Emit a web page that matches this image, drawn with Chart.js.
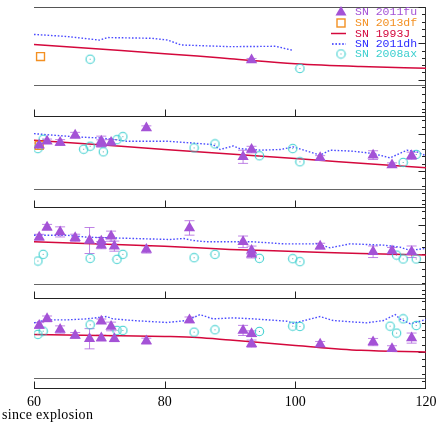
<!DOCTYPE html>
<html>
<head>
<meta charset="utf-8">
<script src="https://cdn.jsdelivr.net/npm/chart.js@4.4.1/dist/chart.umd.min.js"></script>
<style>
  html, body { margin: 0; padding: 0; background: #fff; }
  #wrap { width: 436px; height: 436px; position: relative; }
</style>
</head>
<body>
<div id="wrap"><canvas id="colorChart"></canvas></div>
<script>
// x = days since explosion, y = colour in each of the four stacked panels (no y labels in the figure)
const xTicks = [60, 80, 100, 120];

// SN 1993J template
const j93Days = [60, 70, 80, 85, 90, 100, 110, 120];
const j93P1 = [0.986, 0.922, 0.858, 0.825, 0.79, 0.72, 0.682, 0.659];
const j93P2 = [0.92, 0.857, 0.794, 0.762, 0.731, 0.669, 0.606, 0.543];
const j93P3 = [0.774, 0.743, 0.713, 0.69, 0.668, 0.64, 0.612, 0.59];
const j93P4 = [0.742, 0.728, 0.714, 0.70, 0.664, 0.59, 0.522, 0.499];

// SN 2011dh
const dhDays1 = [60, 65, 70, 71.3, 78, 80.5, 82.5, 90, 97, 99.5];
const dhP1 = [1.123, 1.095, 1.045, 1.08, 1.07, 1.045, 0.978, 0.955, 0.96, 0.906];
const dhDays2 = [60, 64, 66.6, 70.1, 72.1, 74.2, 80.4, 83.4, 87.4, 88.5, 90.5, 91.5, 94.6, 97.7, 99.7, 101.8, 103.8, 105.3, 108.8, 111.9, 114.5, 117.1, 118.6, 120];
const dhP2 = [1.01, 0.982, 0.965, 0.951, 0.933, 0.906, 0.906, 0.888, 0.86, 0.793, 0.842, 0.806, 0.784, 0.793, 0.829, 0.77, 0.716, 0.784, 0.77, 0.738, 0.679, 0.784, 0.761, 0.707];
const dhDays3 = [60, 65, 68.1, 75.2, 80.8, 82.9, 84.4, 86.4, 93.6, 98.2, 103.3, 105.3, 108.4, 113.5, 116, 117.6, 120];
const dhP3 = [0.865, 0.865, 0.838, 0.82, 0.806, 0.82, 0.792, 0.774, 0.774, 0.746, 0.746, 0.691, 0.746, 0.728, 0.70, 0.655, 0.683];
const dhDays4 = [60, 61.9, 65, 68.1, 71.1, 72.1, 75.2, 80.3, 83.4, 85.4, 87.4, 90.5, 93.6, 98.7, 99.7, 103.8, 105.8, 110.9, 113.5, 115.3, 116, 117.6, 120];
const dhP4 = [0.902, 0.943, 0.943, 0.957, 0.989, 0.957, 0.934, 0.907, 0.934, 1.016, 0.957, 0.971, 0.957, 0.925, 0.897, 0.989, 0.934, 0.902, 0.934, 1.016, 0.957, 0.888, 0.948];

// SN 2011fu (with errors)
const fuDays = [60.8, 62.0, 64.0, 66.3, 68.5, 70.3, 70.3, 71.8, 72.3, 77.2, 83.8, 92.0, 93.3, 93.3, 103.8, 111.9, 114.8, 117.8];
const fuP1 = [null, null, null, null, null, null, null, null, null, null, null, null, 0.773, null, null, null, null, null];
const fuE1 = [0, 0, 0, 0, 0, 0, 0, 0, 0, 0, 0, 0, 0.02, 0, 0, 0, 0, 0];
const fuP2 = [0.852, 0.906, 0.888, 0.988, null, 0.906, 0.875, 0.888, null, 1.087, null, 0.693, 0.792, null, 0.679, 0.716, 0.58, 0.707];
const fuE2 = [0.03, 0.03, 0.04, 0.04, 0, 0.07, 0.05, 0.04, 0, 0.03, 0, 0.09, 0.045, 0, 0.03, 0.06, 0.03, 0.05];
const fuP3 = [0.838, 0.975, 0.911, 0.829, 0.792, 0.783, 0.728, 0.852, 0.714, 0.668, 0.966, 0.774, 0.655, 0.60, 0.714, 0.636, 0.646, 0.636];
const fuE3 = [0.04, 0.04, 0.07, 0.05, 0.18, 0.05, 0.05, 0.07, 0.07, 0.05, 0.1, 0.08, 0.06, 0.05, 0.04, 0.08, 0.05, 0.08];
const fuP4 = [0.865, 0.957, 0.81, 0.728, 0.682, 0.925, 0.691, 0.852, 0.682, 0.65, 0.943, 0.797, 0.751, 0.614, 0.604, 0.636, 0.545, 0.691];
const fuE4 = [0.04, 0.04, 0.05, 0.04, 0.14, 0.03, 0.04, 0.06, 0.04, 0.04, 0.04, 0.07, 0.04, 0.05, 0.04, 0.05, 0.04, 0.07];

// SN 2013df
const dfDays = [61.0, 60.8];
const dfP1 = [0.819, null];
const dfP2 = [null, 0.85];

// SN 2008ax
const axDays = [60.6, 61.4, 67.6, 68.6, 70.6, 72.7, 73.6, 84.5, 87.7, 94.5, 99.6, 100.7, 114.5, 115.5, 116.5, 118.5];
const axP1 = [null, null, null, 0.782, null, null, null, null, null, null, null, 0.655, null, null, null, null];
const axP2 = [0.806, 0.933, 0.797, 0.838, 0.761, 0.928, 0.969, 0.815, 0.87, 0.707, 0.806, 0.625, null, null, 0.616, 0.725];
const axP3 = [0.508, 0.60, null, 0.545, null, 0.531, 0.60, 0.554, 0.60, 0.545, 0.54, 0.499, null, 0.59, 0.536, 0.536];
const axP4 = [0.742, 0.787, null, 0.875, null, 0.797, 0.797, 0.773, 0.806, 0.783, 0.856, 0.852, 0.856, 0.76, 0.957, 0.865];

const colFu = '#a452d6';
const colDf = '#f39022';
const colJ = '#d4083c';
const colDh = '#2b2bff';
const colAx = '#3ccfcf';

const panelIds = ['y1', 'y2', 'y3', 'y4'];
const panelMax = [1.5, 1.25, 1.25, 1.25];
const panelWeight = [110, 92, 91, 91];
const sepVals = [0.423, 0.258, 0.192, 0.137];

function pts(days, vals) {
  return days.map((d, i) => ({x: d, y: vals[i]})).filter(p => p.y !== null);
}

function ringDot(color) {
  const c = document.createElement('canvas');
  c.width = 11; c.height = 11;
  const g = c.getContext('2d');
  g.strokeStyle = color;
  g.lineWidth = 1.1;
  g.beginPath(); g.arc(5.5, 5.5, 4.2, 0, Math.PI * 2); g.stroke();
  g.fillStyle = '#5aa';
  g.fillRect(5, 5, 1, 1);
  return c;
}
const ring = ringDot(colAx);

const j93 = [j93P1, j93P2, j93P3, j93P4];
const dh = [[dhDays1, dhP1], [dhDays2, dhP2], [dhDays3, dhP3], [dhDays4, dhP4]];
const fu = [fuP1, fuP2, fuP3, fuP4];
const fuErr = [fuE1, fuE2, fuE3, fuE4];
const ax = [axP1, axP2, axP3, axP4];
const df = [dfP1, dfP2, null, null];

const datasets = [];
panelIds.forEach((id, i) => {
  datasets.push({
    label: 'SN 2011fu', yAxisID: id, data: pts(fuDays, fu[i]), order: 0,
    pointStyle: 'triangle', pointRadius: 6.5, backgroundColor: colFu, borderColor: colFu, borderWidth: 0, showLine: false
  });
  datasets.push({
    label: 'SN 2008ax', yAxisID: id, data: pts(axDays, ax[i]), order: 1,
    pointStyle: ring, pointRadius: 5, showLine: false
  });
  if (df[i]) {
    datasets.push({
      label: 'SN 2013df', yAxisID: id, data: pts(dfDays, df[i]), order: 2,
      pointStyle: 'rect', pointRadius: 5.6, backgroundColor: 'rgba(0,0,0,0)', borderColor: colDf, borderWidth: 1.4, showLine: false
    });
  }
  datasets.push({
    label: 'SN 2011dh', yAxisID: id, data: pts(dh[i][0], dh[i][1]), order: 3,
    showLine: true, pointRadius: 0, borderColor: 'rgba(43,43,255,0.85)', borderWidth: 1.4, borderDash: [1.6, 1.8], tension: 0
  });
  datasets.push({
    label: 'SN 1993J', yAxisID: id, data: pts(j93Days, j93[i]), order: 4,
    showLine: true, pointRadius: 0, borderColor: colJ, borderWidth: 1.5, cubicInterpolationMode: 'monotone'
  });
});

function yScale(i) {
  return {
    type: 'linear', position: 'right', stack: 'panels', stackWeight: panelWeight[i],
    min: 0, max: panelMax[i], display: false
  };
}

const framePlugin = {
  id: 'frame',
  beforeDatasetsDraw(chart) {
    const {ctx, chartArea: a, scales} = chart;
    const xs = scales.x;
    ctx.save();
    ctx.lineWidth = 1;
    const hline = (y, color) => {
      ctx.strokeStyle = color;
      ctx.beginPath(); ctx.moveTo(a.left, y); ctx.lineTo(a.right, y); ctx.stroke();
    };
    hline(Math.round(a.top) + 0.5, '#555');
    panelIds.forEach((id, i) => {
      const s = scales[id];
      hline(Math.round(s.getPixelForValue(sepVals[i])) + 0.5, '#666');
      const by = Math.round(s.bottom) + 0.5;
      hline(by, '#222');
      ctx.strokeStyle = '#222';
      xTicks.slice(0, 3).forEach(t => {
        const px = Math.round(xs.getPixelForValue(t)) + 0.5;
        ctx.beginPath(); ctx.moveTo(px, by); ctx.lineTo(px, by - 7); ctx.stroke();
      });
      // minor / major ticks on the right edge
      const rx = Math.round(a.right) - 0.5;
      for (let k = 0; k <= Math.round(panelMax[i] * 10); k++) {
        const py = Math.round(s.getPixelForValue(k / 10)) + 0.5;
        const len = k % 5 === 0 ? 7 : 3.5;
        ctx.beginPath(); ctx.moveTo(rx, py); ctx.lineTo(rx - len, py); ctx.stroke();
      }
    });
    ctx.strokeStyle = '#333';
    const rx = Math.round(a.right) - 0.5;
    ctx.beginPath(); ctx.moveTo(rx, a.top); ctx.lineTo(rx, a.bottom); ctx.stroke();

    // error bars of SN 2011fu
    ctx.strokeStyle = 'rgba(170,90,220,0.75)';
    panelIds.forEach((id, i) => {
      const s = scales[id];
      fuDays.forEach((d, j) => {
        const v = fu[i][j];
        const e = fuErr[i][j];
        if (v === null || !e) return;
        const px = xs.getPixelForValue(d);
        const y0 = s.getPixelForValue(v - e);
        const y1 = s.getPixelForValue(v + e);
        ctx.beginPath();
        ctx.moveTo(px, y0); ctx.lineTo(px, y1);
        ctx.moveTo(px - 5, y0); ctx.lineTo(px + 5, y0);
        ctx.moveTo(px - 5, y1); ctx.lineTo(px + 5, y1);
        ctx.stroke();
      });
    });
    ctx.restore();
  },
  afterDraw(chart) {
    const {ctx} = chart;
    ctx.save();
    ctx.fillStyle = '#000';
    ctx.font = '14px "Liberation Serif"';
    ctx.letterSpacing = '0.3px';
    ctx.textBaseline = 'middle';
    ctx.textAlign = 'left';
    ctx.fillText('since explosion', 2, 415);
    ctx.letterSpacing = '0px';

    // legend
    const items = [
      {text: 'SN 2011fu', color: colFu, kind: 'tri'},
      {text: 'SN 2013df', color: colDf, kind: 'sq'},
      {text: 'SN 1993J', color: colJ, kind: 'line'},
      {text: 'SN 2011dh', color: colDh, kind: 'dot'},
      {text: 'SN 2008ax', color: colAx, kind: 'ring'}
    ];
    const rows = [12, 23, 33.5, 44, 54];
    ctx.font = '11.5px "Liberation Mono"';
    items.forEach((it, i) => {
      const y = rows[i];
      const sx = 341;
      ctx.fillStyle = it.color;
      ctx.strokeStyle = it.color;
      if (it.kind === 'tri') {
        ctx.beginPath();
        ctx.moveTo(sx, y - 6); ctx.lineTo(sx + 5.5, y + 3.5); ctx.lineTo(sx - 5.5, y + 3.5);
        ctx.closePath(); ctx.fill();
      } else if (it.kind === 'sq') {
        ctx.lineWidth = 1.4;
        ctx.strokeRect(sx - 4, y - 4, 8, 8);
      } else if (it.kind === 'line') {
        ctx.lineWidth = 1.5;
        ctx.beginPath(); ctx.moveTo(331, y); ctx.lineTo(346, y); ctx.stroke();
      } else if (it.kind === 'dot') {
        ctx.lineWidth = 1.4;
        ctx.setLineDash([1.6, 1.8]);
        ctx.beginPath(); ctx.moveTo(332, y); ctx.lineTo(346, y); ctx.stroke();
        ctx.setLineDash([]);
      } else {
        ctx.drawImage(ring, sx - 5.5, y - 5.5);
      }
      ctx.fillText(it.text, 355, y);
    });
    ctx.restore();
  }
};

new Chart(document.getElementById('colorChart'), {
  type: 'scatter',
  data: { datasets: datasets },
  options: {
    responsive: true,
    maintainAspectRatio: false,
    animation: false,
    layout: { padding: { left: 34, right: 10, top: 4, bottom: 0 } },
    plugins: { legend: { display: false }, tooltip: { enabled: false } },
    scales: {
      x: {
        type: 'linear', position: 'bottom', min: 60, max: 120,
        afterBuildTicks: s => { s.ticks = xTicks.map(v => ({value: v})); },
        afterFit: s => { s.height = 48; s.paddingLeft = 0; s.paddingRight = 0; },
        grid: { display: false, drawTicks: false },
        border: { display: false },
        ticks: { color: '#000', padding: 6, font: { family: 'Liberation Serif', size: 14 } }
      },
      y1: yScale(0),
      y2: yScale(1),
      y3: yScale(2),
      y4: yScale(3)
    }
  },
  plugins: [framePlugin]
});
</script>
</body>
</html>
